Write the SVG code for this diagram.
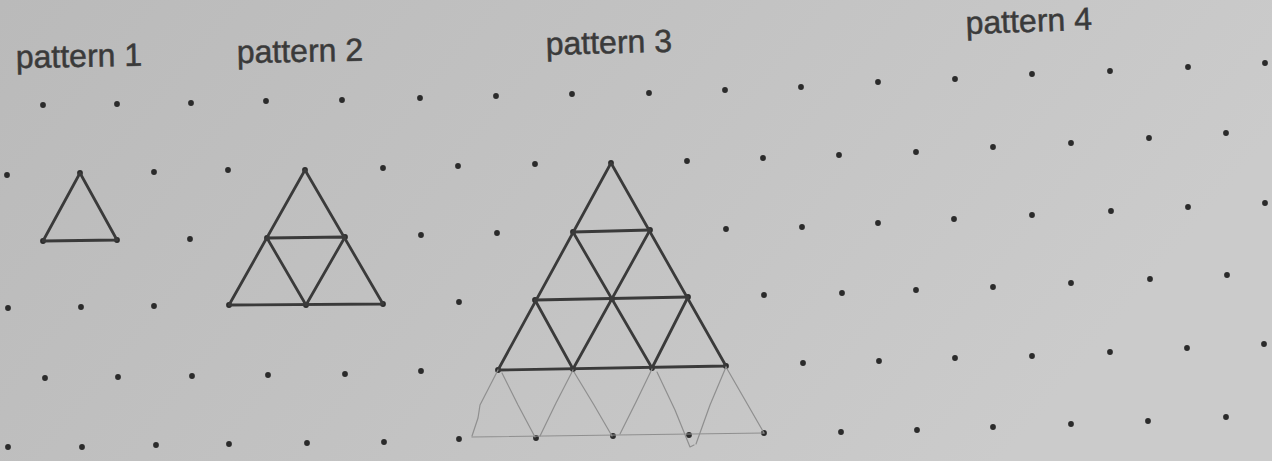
<svg xmlns="http://www.w3.org/2000/svg" width="1272" height="461" viewBox="0 0 1272 461">
<defs>
<linearGradient id="paper" x1="0" y1="0" x2="1" y2="0.3">
<stop offset="0" stop-color="#bababa"/>
<stop offset="0.5" stop-color="#c2c2c2"/>
<stop offset="1" stop-color="#cbcbcb"/>
</linearGradient>
<circle id="d" r="2.9" fill="#2b2b2b"/>
</defs>
<style>
.lbl{font-family:"Liberation Sans",Arial,sans-serif;font-size:32px;fill:#3a3a3a;stroke:#3a3a3a;stroke-width:0.5;}
.ink{stroke:#3a3a3a;stroke-width:2.8;fill:none;stroke-linecap:round;stroke-linejoin:round;}
.pencil{stroke:#8f8f8f;stroke-width:1.2;fill:none;stroke-linecap:round;stroke-linejoin:round;}
</style>
<rect width="1272" height="461" fill="url(#paper)"/>

<g id="labels">
<text class="lbl" x="16" y="68" transform="rotate(-1 16 68)">pattern 1</text>
<text class="lbl" x="237" y="63" transform="rotate(-1 237 63)">pattern 2</text>
<text class="lbl" x="546" y="55" transform="rotate(-1.5 546 55)">pattern 3</text>
<text class="lbl" x="966" y="34" transform="rotate(-2 966 34)">pattern 4</text>
</g>

<g id="dot-grid">
<!-- row A -->
<use href="#d" x="43" y="105"/><use href="#d" x="117" y="104"/><use href="#d" x="191" y="103"/><use href="#d" x="266" y="101"/><use href="#d" x="342" y="100"/><use href="#d" x="420" y="98"/><use href="#d" x="496" y="96"/><use href="#d" x="572" y="94"/><use href="#d" x="649" y="93"/><use href="#d" x="725" y="90"/><use href="#d" x="801" y="87"/><use href="#d" x="878" y="82"/><use href="#d" x="955" y="79"/><use href="#d" x="1032" y="74"/><use href="#d" x="1110" y="71"/><use href="#d" x="1188" y="67"/><use href="#d" x="1265" y="63"/>
<!-- row B -->
<use href="#d" x="7" y="175"/><use href="#d" x="80" y="173"/><use href="#d" x="154" y="172"/><use href="#d" x="228" y="170"/><use href="#d" x="305" y="170"/><use href="#d" x="383" y="168"/><use href="#d" x="458" y="166"/><use href="#d" x="535" y="164"/><use href="#d" x="611" y="163"/><use href="#d" x="687" y="161"/><use href="#d" x="763" y="158"/><use href="#d" x="839" y="155"/><use href="#d" x="916" y="152"/><use href="#d" x="993" y="147"/><use href="#d" x="1071" y="143"/><use href="#d" x="1149" y="138"/><use href="#d" x="1226" y="133"/>
<!-- row C -->
<use href="#d" x="43" y="241"/><use href="#d" x="117" y="240"/><use href="#d" x="190" y="239"/><use href="#d" x="267" y="238"/><use href="#d" x="345" y="237"/><use href="#d" x="421" y="235"/><use href="#d" x="497" y="233"/><use href="#d" x="573" y="232"/><use href="#d" x="650" y="230"/><use href="#d" x="726" y="229"/><use href="#d" x="802" y="227"/><use href="#d" x="878" y="223"/><use href="#d" x="954" y="219"/><use href="#d" x="1032" y="215"/><use href="#d" x="1111" y="211"/><use href="#d" x="1188" y="207"/><use href="#d" x="1265" y="203"/>
<!-- row D -->
<use href="#d" x="8" y="308"/><use href="#d" x="81" y="307"/><use href="#d" x="154" y="306"/><use href="#d" x="229" y="305"/><use href="#d" x="306" y="305"/><use href="#d" x="383" y="304"/><use href="#d" x="459" y="302"/><use href="#d" x="535" y="300"/><use href="#d" x="612" y="299"/><use href="#d" x="688" y="297"/><use href="#d" x="764" y="295"/><use href="#d" x="842" y="293"/><use href="#d" x="916" y="290"/><use href="#d" x="993" y="287"/><use href="#d" x="1071" y="283"/><use href="#d" x="1150" y="279"/><use href="#d" x="1227" y="275"/>
<!-- row E -->
<use href="#d" x="45" y="378"/><use href="#d" x="118" y="377"/><use href="#d" x="192" y="376"/><use href="#d" x="268" y="375"/><use href="#d" x="345" y="374"/><use href="#d" x="421" y="371"/><use href="#d" x="498" y="370"/><use href="#d" x="573" y="369"/><use href="#d" x="652" y="368"/><use href="#d" x="726" y="366"/><use href="#d" x="803" y="363"/><use href="#d" x="879" y="361"/><use href="#d" x="955" y="358"/><use href="#d" x="1032" y="356"/><use href="#d" x="1110" y="352"/><use href="#d" x="1187" y="348"/><use href="#d" x="1264" y="344"/>
<!-- row F -->
<use href="#d" x="8" y="447"/><use href="#d" x="82" y="447"/><use href="#d" x="156" y="445"/><use href="#d" x="229" y="444"/><use href="#d" x="307" y="443"/><use href="#d" x="384" y="442"/><use href="#d" x="459" y="439"/><use href="#d" x="536" y="438"/><use href="#d" x="613" y="436"/><use href="#d" x="689" y="435"/><use href="#d" x="764" y="433"/><use href="#d" x="841" y="432"/><use href="#d" x="917" y="430"/><use href="#d" x="993" y="427"/><use href="#d" x="1071" y="424"/><use href="#d" x="1148" y="421"/><use href="#d" x="1226" y="417"/>
</g>

<g id="pattern-1">
<path class="ink" d="M80 173 L43 241 L117 240 Z"/>
</g>

<g id="pattern-2">
<path class="ink" d="M305 170 L229 305 L383 304 Z"/>
<path class="ink" d="M267 238 L345 237 M267 238 L306 305 L345 237"/>
</g>

<g id="pattern-3">
<path class="ink" d="M611 163 L498 370 L726 366 Z"/>
<path class="ink" d="M573 232 L650 230 M535 300 L688 297"/>
<path class="ink" d="M573 232 L652 368 M535 300 L573 369 M650 230 L573 369 M688 297 L652 368"/>
</g>

<g id="pattern-3-pencil">
<path class="pencil" d="M498 370 L480 405 L478 418 L472 436"/>
<path class="pencil" d="M502 373 L518 405 L535 437"/>
<path class="pencil" d="M573 370 L556 403 L540 436"/>
<path class="pencil" d="M574 372 L594 405 L612 436"/>
<path class="pencil" d="M652 369 L636 402 L620 434"/>
<path class="pencil" d="M657 372 L675 410 L690 447 L694 445"/>
<path class="pencil" d="M726 367 L710 405 L696 444"/>
<path class="pencil" d="M726 367 L764 433"/>
<path class="pencil" d="M472 437 L764 433"/>
</g>
</svg>
